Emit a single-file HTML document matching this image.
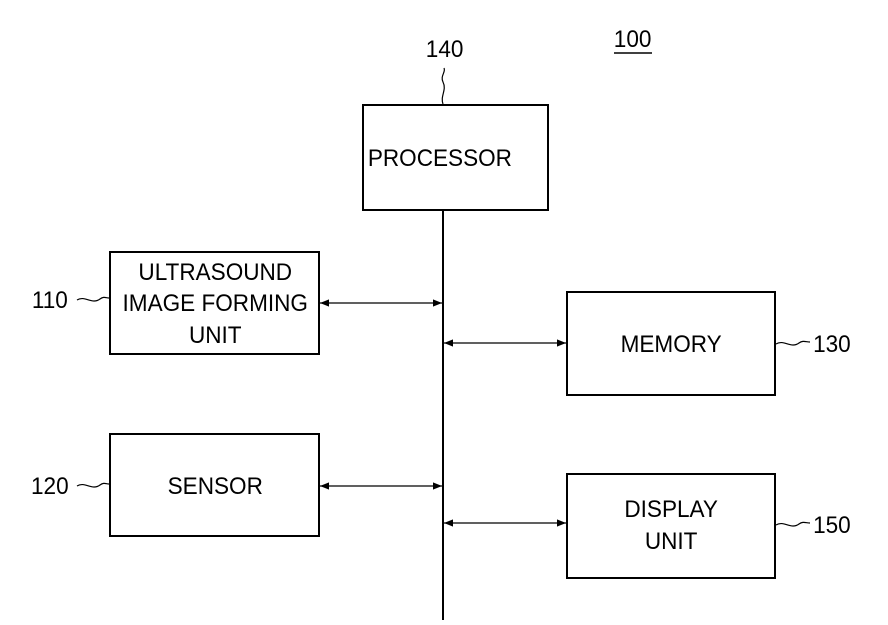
<!DOCTYPE html>
<html><head><style>body{margin:0;background:#fff}svg{display:block}</style></head><body>
<svg width="888" height="625" viewBox="0 0 888 625" xmlns="http://www.w3.org/2000/svg" font-family="Liberation Sans, sans-serif" font-size="24" fill="none" stroke="#000">
<defs><marker id="a" viewBox="0 0 10 10" refX="10" refY="5" markerWidth="13" markerHeight="9" orient="auto-start-reverse" markerUnits="userSpaceOnUse"><path d="M0,1 L10,5 L0,9z" fill="#000" stroke="none"/></marker></defs>
<g stroke-width="2">
<rect x="363" y="105" width="185" height="105"/>
<rect x="110" y="252" width="209" height="102"/>
<rect x="567" y="292" width="208" height="103"/>
<rect x="110" y="434" width="209" height="102"/>
<rect x="567" y="474" width="208" height="104"/>
<line x1="443" y1="210" x2="443" y2="620"/>
</g>
<g stroke-width="1.3" marker-start="url(#a)" marker-end="url(#a)">
<line x1="320" y1="303" x2="442" y2="303"/>
<line x1="444" y1="343" x2="566" y2="343"/>
<line x1="320" y1="486" x2="442" y2="486"/>
<line x1="444" y1="523" x2="566" y2="523"/>
</g>
<g stroke-width="1.2">
<path d="M443,104 C440,96 447,90 443,82 C440,76 446,72 444,68"/>
<path d="M77,300 C85,295 92,305 100,299 C104,296 106,298 109,298"/>
<path d="M77,486 C85,481 92,491 100,485 C104,482 106,484 109,484"/>
<path d="M776,344 C784,339 791,349 799,343 C803,340 806,342 810,342"/>
<path d="M776,525 C784,520 791,530 799,524 C803,521 806,523 810,523"/>
<line x1="614" y1="53" x2="652" y2="53" stroke-width="1.5"/>
</g>
<g fill="#000" stroke="none" text-anchor="middle" transform="scale(0.94,1)">
<text x="468" y="166">PROCESSOR</text>
<text x="229" y="280">ULTRASOUND</text>
<text x="229" y="311">IMAGE FORMING</text>
<text x="229" y="343">UNIT</text>
<text x="714" y="352">MEMORY</text>
<text x="229" y="494">SENSOR</text>
<text x="714" y="517">DISPLAY</text>
<text x="714" y="549">UNIT</text>
<text x="473" y="57">140</text>
<text x="673" y="47">100</text>
<text x="53" y="308">110</text>
<text x="53" y="494">120</text>
<text x="885" y="352">130</text>
<text x="885" y="533">150</text>
</g>
</svg>
</body></html>
